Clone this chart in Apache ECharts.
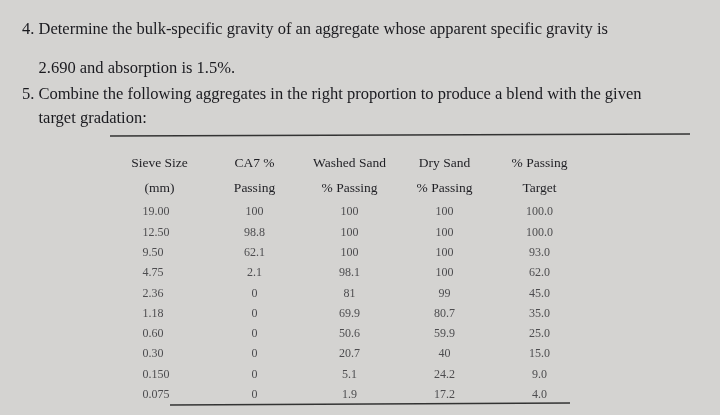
<!DOCTYPE html>
<html><head><meta charset="utf-8">
<script src="https://cdn.jsdelivr.net/npm/echarts@6/dist/echarts.min.js"></script>
<style>html,body{margin:0;padding:0;background:#d4d3d1}</style>
</head><body>
<div id="c" style="width:720px;height:415px"></div>
<script>
const columns = ['Sieve Size\n(mm)', 'CA7 %\nPassing', 'Washed Sand\n% Passing', 'Dry Sand\n% Passing', '% Passing\nTarget'];
const sieveSizes = ['19.00','12.50','9.50','4.75','2.36','1.18','0.60','0.30','0.150','0.075'];
const ca7 = ['100','98.8','62.1','2.1','0','0','0','0','0','0'];
const washedSand = ['100','100','100','98.1','81','69.9','50.6','20.7','5.1','1.9'];
const drySand = ['100','100','100','100','99','80.7','59.9','40','24.2','17.2'];
const target = ['100.0','100.0','93.0','62.0','45.0','35.0','25.0','15.0','9.0','4.0'];
const questionLines = [
 '4. Determine the bulk-specific gravity of an aggregate whose apparent specific gravity is',
 '    2.690 and absorption is 1.5%.',
 '5. Combine the following aggregates in the right proportion to produce a blend with the given',
 '    target gradation:'
];
const cols = [sieveSizes, ca7, washedSand, drySand, target];
const data = [];
cols.forEach((arr, ci) => arr.forEach((v, ri) => data.push({
  value: [ci, ri], name: v,
  label: ci === 0 ? {align: 'left', offset: [-17, 0]} : {}
})));
const font = '"Liberation Serif", "DejaVu Serif", serif';
const chart = echarts.init(document.getElementById('c'));
chart.setOption({
  backgroundColor: '#d4d3d1',
  textStyle: {fontFamily: font},
  grid: {left: 112, width: 475, top: 202, height: 203},
  xAxis: {type: 'category', data: columns, position: 'top',
    axisLine: {show: false}, axisTick: {show: false},
    axisLabel: {color: '#1f1f24', fontFamily: font, fontSize: 13.5, lineHeight: 25, margin: 1,
      formatter: v => v,
      align: 'center'}},
  yAxis: {type: 'category', data: sieveSizes, inverse: true, show: false},
  series: [{type: 'scatter', symbolSize: 0, data,
    label: {show: true, position: 'inside', formatter: p => p.name,
      color: '#2a2a2e', fontFamily: font, fontSize: 12}}],
  graphic: [
    ...questionLines.map((t, i) => ({type: 'text', left: 22, top: [21, 60, 86, 110][i],
      style: {text: t, fill: '#1a1a1f', font: '16.5px ' + font}})),
    {type: 'line', shape: {x1: 110, y1: 136, x2: 690, y2: 134}, style: {stroke: '#333', lineWidth: 1.5}},
    {type: 'line', shape: {x1: 170, y1: 405, x2: 570, y2: 403}, style: {stroke: '#333', lineWidth: 1.5}}
  ]
});
</script></body></html>
